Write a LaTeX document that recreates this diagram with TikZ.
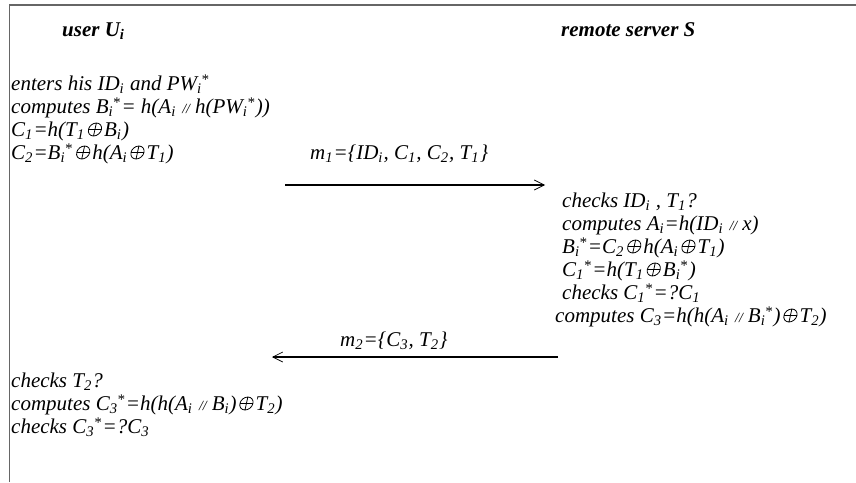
\documentclass[tikz,border=0pt]{standalone}
\usepackage{fontspec}
\setmainfont{Liberation Serif}
\usetikzlibrary{arrows.meta}
\newcommand\lo[1]{\textsubscript{#1}\kern0.5pt\relax}
\newcommand\lohi[2]{\textsubscript{#1}\kern-0.5pt\raisebox{-2pt}{\textsuperscript{#2}}\kern1pt\relax}
\newcommand\xo{\kern2pt\relax\tikz[baseline=0pt,x=1cm,y=1cm,line width=0.8pt,xslant=0.22]{%
  \draw (0pt,6.5pt) circle[radius=6.5pt] (-6.5pt,6.5pt) -- (6.5pt,6.5pt) (0pt,0pt) -- (0pt,13pt);}\kern1.5pt\relax}
\newcommand\cc{\kern6pt\relax{\fontsize{14}{14}\selectfont //}\kern5pt\relax}
\tikzset{
  txt/.style={anchor=base west, inner sep=0pt,
    font={\fontsize{21}{23}\selectfont\itshape}},
  head/.style={anchor=base west, inner sep=0pt,
    font={\fontsize{21}{23}\selectfont\bfseries\itshape}},
  frame/.style={line width=1.6pt, draw=gray!80!black},
  msg/.style={line width=1.3pt, -{Straight Barb[length=10pt,width=10pt,line width=0.7pt]}}
}
\begin{document}
\begin{tikzpicture}[x=1pt,y=-1pt]
\useasboundingbox (0,0) rectangle (856,482);
\draw[frame] (9.5,482) -- (9.5,5) -- (856,5);
\node[head] (hu) at (62,36) {user U\lo{i}};
\node[head] (hs) at (561,36) {remote server S};
% user, first block
\node[txt] (u1) at (11,90) {enters his ID\lo{i} and PW\lohi{i}{*}};
\node[txt] (u2) at (11,113) {computes B\lohi{i}{*}= h(A\lo{i}\cc h(PW\lohi{i}{*}))};
\node[txt] (u3) at (11,136) {C\lo{1}=h(T\lo{1}\xo B\lo{i})};
\node[txt] (u4) at (11,159) {C\lo{2}=B\lohi{i}{*}\xo h(A\lo{i}\xo T\lo{1})};
% message 1
\node[txt] (m1) at (310,159) {m\lo{1}=\{ID\lo{i}, C\lo{1}, C\lo{2}, T\lo{1}\}};
\coordinate (a1) at (285,185);
\coordinate (b1) at (545,185);
\draw[msg] (a1) -- (b1);
% server block
\node[txt] (s1) at (562,207) {checks ID\lo{i} , T\lo{1}?};
\node[txt] (s2) at (562,230) {computes A\lo{i}=h(ID\lo{i}\cc x)};
\node[txt] (s3) at (562,253) {B\lohi{i}{*}=C\lo{2}\xo h(A\lo{i}\xo T\lo{1})};
\node[txt] (s4) at (562,276) {C\lohi{1}{*}=h(T\lo{1}\xo B\lohi{i}{*})};
\node[txt] (s5) at (562,299) {checks C\lohi{1}{*}=?C\lo{1}};
\node[txt] (s6) at (555,322) {computes C\lo{3}=h(h(A\lo{i}\cc B\lohi{i}{*})\xo T\lo{2})};
% message 2
\node[txt] (m2) at (340,346) {m\lo{2}=\{C\lo{3}, T\lo{2}\}};
\coordinate (a2) at (558,357);
\coordinate (b2) at (272,357);
\draw[msg] (a2) -- (b2);
% user, second block
\node[txt] (v1) at (11,387) {checks T\lo{2}?};
\node[txt] (v2) at (11,410) {computes C\lohi{3}{*}=h(h(A\lo{i}\cc B\lo{i})\xo T\lo{2})};
\node[txt] (v3) at (11,433) {checks C\lohi{3}{*}=?C\lo{3}};
\end{tikzpicture}
\end{document}
